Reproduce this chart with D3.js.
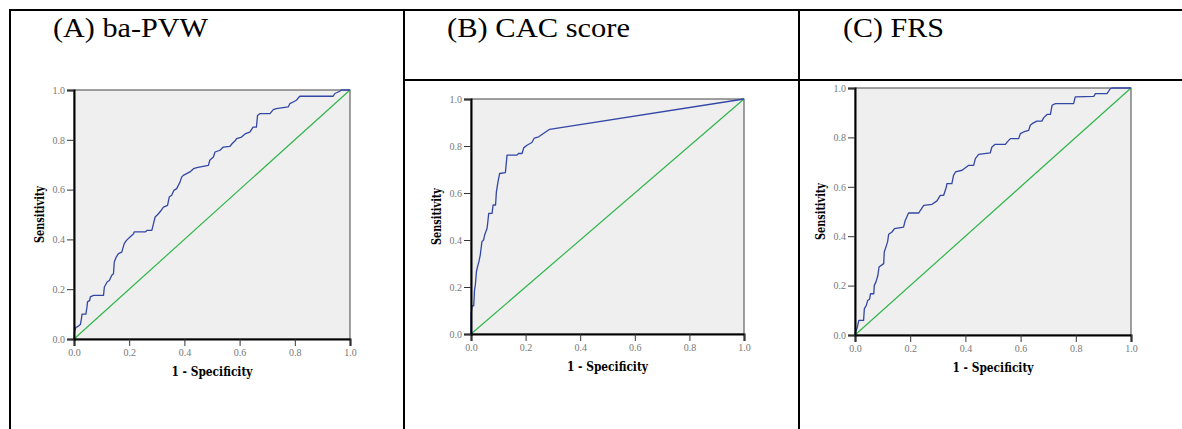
<!DOCTYPE html>
<html>
<head>
<meta charset="utf-8">
<script src="https://cdn.jsdelivr.net/npm/d3@7"></script>
<style>
  html, body { margin: 0; padding: 0; background: #fff; }
  svg { display: block; }
</style>
</head>
<body>
<svg id="chart" width="1182" height="429"></svg>
<script>
// ROC curve vertices [1 - specificity, sensitivity]
const rocPVW = [
  [0, 0], [0.002, 0.03], [0.007, 0.048], [0.011, 0.048], [0.023, 0.058], [0.027, 0.082],
  [0.029, 0.1], [0.043, 0.1], [0.047, 0.128], [0.049, 0.149], [0.057, 0.155], [0.059, 0.169],
  [0.071, 0.175], [0.107, 0.175], [0.11, 0.209], [0.12, 0.229], [0.128, 0.235], [0.137, 0.256],
  [0.143, 0.262], [0.146, 0.309], [0.153, 0.329], [0.161, 0.343], [0.173, 0.349], [0.182, 0.383],
  [0.19, 0.396], [0.203, 0.41], [0.216, 0.423], [0.218, 0.43], [0.258, 0.43], [0.264, 0.436],
  [0.282, 0.436], [0.288, 0.463], [0.294, 0.49], [0.306, 0.503], [0.314, 0.514], [0.324, 0.53],
  [0.339, 0.537], [0.345, 0.57], [0.354, 0.577], [0.362, 0.597], [0.372, 0.604], [0.384, 0.63],
  [0.39, 0.65], [0.396, 0.657], [0.408, 0.664], [0.42, 0.671], [0.433, 0.684], [0.445, 0.688],
  [0.463, 0.692], [0.487, 0.697], [0.492, 0.718], [0.505, 0.731], [0.511, 0.751], [0.529, 0.758],
  [0.541, 0.771], [0.565, 0.774], [0.575, 0.787], [0.583, 0.795], [0.589, 0.805], [0.607, 0.811],
  [0.622, 0.825], [0.637, 0.831], [0.649, 0.851], [0.661, 0.851], [0.665, 0.898], [0.673, 0.905],
  [0.71, 0.905], [0.722, 0.921], [0.733, 0.925], [0.776, 0.932], [0.782, 0.945], [0.794, 0.952],
  [0.806, 0.959], [0.818, 0.975], [0.939, 0.975], [0.945, 0.986], [0.963, 0.995], [0.969, 1],
  [1, 1]
];

const rocCAC = [
  [0, 0], [0, 0.082], [0.004, 0.12], [0.01, 0.12], [0.013, 0.188], [0.016, 0.21],
  [0.02, 0.266], [0.024, 0.287], [0.029, 0.308], [0.034, 0.337], [0.04, 0.393], [0.046, 0.4],
  [0.05, 0.421], [0.059, 0.45], [0.065, 0.513], [0.077, 0.513], [0.081, 0.549], [0.09, 0.549],
  [0.093, 0.605], [0.099, 0.648], [0.105, 0.683], [0.126, 0.687], [0.132, 0.761], [0.168, 0.761],
  [0.174, 0.768], [0.187, 0.768], [0.193, 0.792], [0.205, 0.803], [0.223, 0.815], [0.232, 0.834],
  [0.248, 0.839], [0.288, 0.871], [1, 1]
];

const rocFRS = [
  [0, 0], [0.005, 0.022], [0.007, 0.026], [0.014, 0.059], [0.031, 0.059], [0.034, 0.107],
  [0.041, 0.12], [0.046, 0.14], [0.053, 0.146], [0.056, 0.167], [0.068, 0.167], [0.07, 0.201],
  [0.076, 0.215], [0.083, 0.242], [0.087, 0.275], [0.104, 0.289], [0.106, 0.336], [0.114, 0.363],
  [0.118, 0.377], [0.122, 0.408], [0.134, 0.417], [0.143, 0.431], [0.176, 0.437], [0.182, 0.464],
  [0.194, 0.494], [0.231, 0.494], [0.237, 0.505], [0.249, 0.525], [0.279, 0.529], [0.297, 0.543],
  [0.309, 0.565], [0.321, 0.565], [0.331, 0.599], [0.333, 0.613], [0.351, 0.613], [0.357, 0.646],
  [0.364, 0.66], [0.388, 0.667], [0.4, 0.677], [0.412, 0.687], [0.43, 0.687], [0.436, 0.714],
  [0.448, 0.731], [0.49, 0.737], [0.496, 0.761], [0.508, 0.772], [0.545, 0.772], [0.551, 0.781],
  [0.563, 0.795], [0.593, 0.795], [0.599, 0.815], [0.611, 0.822], [0.629, 0.828], [0.635, 0.849],
  [0.645, 0.858], [0.659, 0.866], [0.677, 0.866], [0.684, 0.88], [0.696, 0.893], [0.708, 0.893],
  [0.714, 0.93], [0.726, 0.937], [0.792, 0.937], [0.798, 0.964], [0.865, 0.966], [0.871, 0.977],
  [0.913, 0.977], [0.925, 0.997], [0.931, 1], [1, 1]
];

const panelTitles = ["(A) ba-PVW", "(B) CAC score", "(C) FRS"];
const tickValues = [0, 0.2, 0.4, 0.6, 0.8, 1.0];
const xAxisTitle = "1 - Specificity";
const yAxisTitle = "Sensitivity";

// layout of each panel (plot box + title placement)
const panels = [
  { data: rocPVW, x0: 74, x1: 350, y0: 90, y1: 339, tx: 53, tlen: 155 },
  { data: rocCAC, x0: 471, x1: 744, y0: 99, y1: 334, tx: 447, tlen: 183 },
  { data: rocFRS, x0: 855, x1: 1131, y0: 88, y1: 335, tx: 843, tlen: 101 }
];

const svg = d3.select("#chart");

// table grid lines
const grid = svg.append("g").attr("stroke", "#000").attr("stroke-width", 2);
grid.append("line").attr("x1", 9).attr("x2", 1182).attr("y1", 10).attr("y2", 10);
grid.append("line").attr("x1", 10).attr("x2", 10).attr("y1", 9).attr("y2", 429);
grid.append("line").attr("x1", 404).attr("x2", 404).attr("y1", 9).attr("y2", 429);
grid.append("line").attr("x1", 799).attr("x2", 799).attr("y1", 9).attr("y2", 429);
grid.append("line").attr("x1", 404).attr("x2", 1182).attr("y1", 80).attr("y2", 80);

panels.forEach((p, i) => {
  // title
  svg.append("text")
    .attr("x", p.tx)
    .attr("y", 37)
    .attr("font-family", "Liberation Serif, Times New Roman, serif")
    .attr("font-size", 27)
    .attr("textLength", p.tlen)
    .attr("lengthAdjust", "spacingAndGlyphs")
    .attr("fill", "#000")
    .text(panelTitles[i]);

  const x = d3.scaleLinear().domain([0, 1]).range([p.x0, p.x1]);
  const y = d3.scaleLinear().domain([0, 1]).range([p.y1, p.y0]);

  const g = svg.append("g");

  g.append("rect")
    .attr("x", x(0))
    .attr("y", y(1))
    .attr("width", x(1) - x(0))
    .attr("height", y(0) - y(1))
    .attr("fill", "#efefef")
    .attr("stroke", "#444")
    .attr("stroke-width", 1);

  // reference diagonal
  g.append("line")
    .attr("x1", x(0)).attr("y1", y(0))
    .attr("x2", x(1)).attr("y2", y(1))
    .attr("stroke", "#2fb64a")
    .attr("stroke-width", 1.2);

  // ROC curve
  const line = d3.line().x((d) => x(d[0])).y((d) => y(d[1]));
  g.append("path")
    .datum(p.data)
    .attr("d", line)
    .attr("fill", "none")
    .attr("stroke", "#3347a6")
    .attr("stroke-width", 1.3)
    .attr("stroke-linejoin", "round");

  const fmt = d3.format(".1f");

  const xAxis = g.append("g")
    .attr("transform", `translate(0,${y(0)})`)
    .call(d3.axisBottom(x).tickValues(tickValues).tickFormat(fmt).tickSize(7).tickPadding(3));
  const yAxis = g.append("g")
    .attr("transform", `translate(${x(0)},0)`)
    .call(d3.axisLeft(y).tickValues(tickValues).tickFormat(fmt).tickSize(7).tickPadding(2));

  [xAxis, yAxis].forEach((ax) => {
    ax.select(".domain").attr("stroke", "#000").attr("stroke-width", 2);
    ax.selectAll(".tick line").attr("stroke", "#333").attr("stroke-width", 1);
    ax.selectAll(".tick text")
      .attr("fill", "#777")
      .attr("font-family", "Liberation Serif, Times New Roman, serif")
      .attr("font-size", 10);
  });

  // axis titles
  g.append("text")
    .attr("x", (p.x0 + p.x1) / 2)
    .attr("y", p.y1 + 37)
    .attr("text-anchor", "middle")
    .attr("font-family", "DejaVu Serif, serif")
    .attr("font-weight", "bold")
    .attr("font-size", 12.5)
    .attr("textLength", 81)
    .attr("lengthAdjust", "spacingAndGlyphs")
    .text(xAxisTitle);

  g.append("text")
    .attr("transform", `translate(${p.x0 - 30},${(p.y0 + p.y1) / 2}) rotate(-90)`)
    .attr("text-anchor", "middle")
    .attr("font-family", "DejaVu Serif, serif")
    .attr("font-weight", "bold")
    .attr("font-size", 12.5)
    .attr("textLength", 57)
    .attr("lengthAdjust", "spacingAndGlyphs")
    .text(yAxisTitle);
});
</script>
</body>
</html>
